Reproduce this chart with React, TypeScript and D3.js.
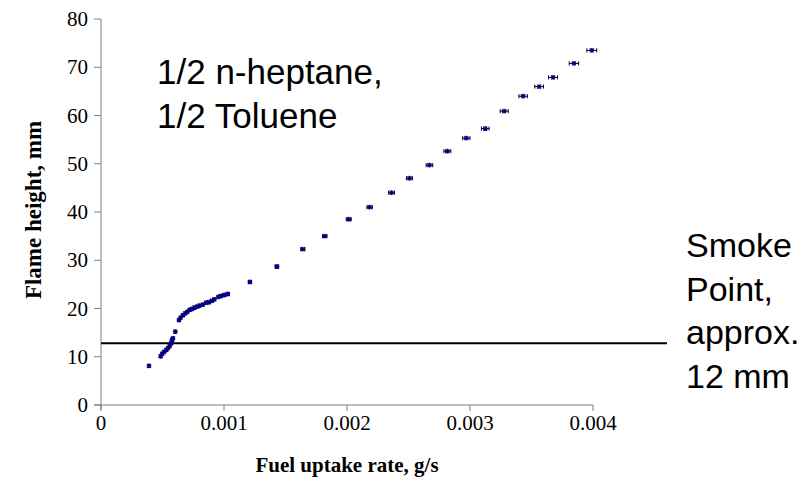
import React from "react";
import * as d3 from "d3";

// Fuel uptake rate (g/s) and measured flame height (mm)
const fuelRate: number[] = [
  0.00039,
  0.000485, 0.000498, 0.000512, 0.000531, 0.000544, 0.000558, 0.000571, 0.000577,
  0.000585, 0.000604, 0.000634, 0.000647, 0.000666, 0.000685, 0.000701, 0.00072,
  0.000739, 0.00076, 0.000782, 0.000801, 0.000828, 0.000855, 0.000877, 0.000901,
  0.000922, 0.000955, 0.000976, 0.001003, 0.001031,
  0.001211, 0.00143, 0.001641, 0.001819, 0.002014, 0.002184, 0.002362, 0.002508,
  0.00267, 0.002816, 0.00297, 0.003124, 0.003278, 0.003432, 0.003562, 0.003675,
  0.003845, 0.00399,
];
const flameHeight: number[] = [
  8.1,
  10.1, 10.6, 11.0, 11.4, 11.8, 12.2, 12.8, 13.5,
  13.8, 15.2, 17.6, 18.1, 18.6, 19.0, 19.3, 19.7,
  19.9, 20.2, 20.4, 20.6, 20.8, 21.2, 21.3, 21.6,
  21.9, 22.4, 22.6, 22.8, 23.0,
  25.5, 28.7, 32.3, 35.0, 38.5, 41.0, 44.0, 47.0,
  49.7, 52.6, 55.3, 57.3, 60.9, 64.0, 66.0, 67.9,
  70.8, 73.5,
];

// Percentage horizontal error on the uptake rate
const rateErrorPct = 0.01;

const xTicks: number[] = [0, 0.001, 0.002, 0.003, 0.004];
const yTicks: number[] = [0, 10, 20, 30, 40, 50, 60, 70, 80];
const smokePoint = 12.8;

const sampleLabel: string[] = ["1/2 n-heptane,", "1/2 Toluene"];
const smokeLabel: string[] = ["Smoke", "Point,", "approx.", "12 mm"];

const W = 812;
const H = 483;
const serif = "'Liberation Serif', 'Times New Roman', serif";
const sans = "'Liberation Sans', Arial, sans-serif";
const axisColor = "#808080";

export default function App() {
  const x = d3.scaleLinear().domain([0, 0.004]).range([101, 593]);
  const y = d3.scaleLinear().domain([0, 80]).range([405, 19]);
  const fmt = d3.format("");

  const points = fuelRate.map((r, i) => ({ r, h: flameHeight[i] }));
  const star = "M-2,-2L2,2M-2,2L2,-2M0,-2.4V2.4M-2.4,0H2.4";

  return (
    <svg
      width={W}
      height={H}
      style={{ position: "absolute", left: 0, top: 0, background: "#fff" }}
    >
      {/* y axis */}
      <line x1={x(0)} x2={x(0)} y1={y(80)} y2={y(0) + 5} stroke={axisColor} strokeWidth={1} />
      {yTicks.map((t) => (
        <g key={"y" + t}>
          <line x1={x(0) - 7} x2={x(0)} y1={y(t)} y2={y(t)} stroke={axisColor} />
          <text
            x={88}
            y={y(t)}
            dy="0.34em"
            textAnchor="end"
            fontFamily={serif}
            fontSize={21}
          >
            {t}
          </text>
        </g>
      ))}

      {/* x axis */}
      <line x1={x(0) - 7} x2={x(0.004)} y1={y(0)} y2={y(0)} stroke={axisColor} strokeWidth={1} />
      {xTicks.map((t) => (
        <g key={"x" + t}>
          <line x1={x(t)} x2={x(t)} y1={y(0)} y2={y(0) + 6} stroke={axisColor} />
          <text
            x={x(t)}
            y={430}
            textAnchor="middle"
            fontFamily={serif}
            fontSize={21}
          >
            {t === 0 ? "0" : fmt(t)}
          </text>
        </g>
      ))}

      {/* axis titles */}
      <text
        x={347}
        y={472}
        textAnchor="middle"
        fontFamily={serif}
        fontWeight="bold"
        fontSize={21}
      >
        Fuel uptake rate, g/s
      </text>
      <text
        transform={`translate(41,${210}) rotate(-90)`}
        textAnchor="middle"
        fontFamily={serif}
        fontWeight="bold"
        fontSize={23}
      >
        Flame height, mm
      </text>

      {/* smoke point reference line */}
      <line
        x1={x(0)}
        x2={667}
        y1={y(smokePoint)}
        y2={y(smokePoint)}
        stroke="#000"
        strokeWidth={2}
      />

      {/* error bars and markers */}
      {points.map((p, i) => {
        const e = p.r * rateErrorPct;
        const x0 = x(p.r - e);
        const x1 = x(p.r + e);
        const cy = y(p.h);
        return (
          <g key={"p" + i}>
            <path
              d={`M${x0},${cy}H${x1}M${x0},${cy - 2}V${cy + 2}M${x1},${cy - 2}V${cy + 2}`}
              stroke="#000"
              strokeWidth={1}
              fill="none"
            />
            <path
              d={star}
              transform={`translate(${x(p.r)},${cy})`}
              stroke="#000080"
              strokeWidth={1.2}
              fill="none"
            />
          </g>
        );
      })}

      {/* annotations */}
      {sampleLabel.map((s, i) => (
        <text key={"s" + i} x={157} y={84 + i * 44} fontFamily={sans} fontSize={35}>
          {s}
        </text>
      ))}
      {smokeLabel.map((s, i) => (
        <text key={"k" + i} x={686} y={257 + i * 43.5} fontFamily={sans} fontSize={34}>
          {s}
        </text>
      ))}
    </svg>
  );
}
